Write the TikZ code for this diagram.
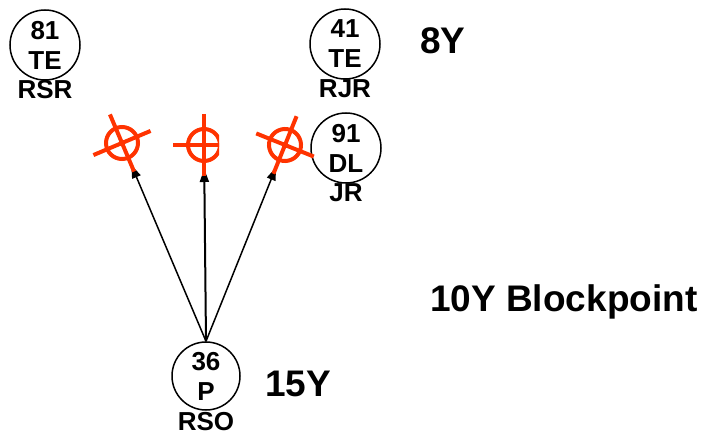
\documentclass[tikz,border=0pt]{standalone}
\usepackage{fontspec}
\setmainfont{Liberation Sans}
\usetikzlibrary{arrows.meta}
\definecolor{crossred}{RGB}{255,51,0}
\tikzset{
  circnode/.style={circle, draw=black, line width=1.5bp, minimum size=70bp, inner sep=0pt, align=center,
    font=\fontsize{26bp}{30bp}\selectfont\bfseries},
  sublabel/.style={inner sep=0pt, font=\fontsize{26bp}{30bp}\selectfont\bfseries},
  biglabel/.style={inner sep=0pt, anchor=base west, font=\fontsize{37bp}{40bp}\selectfont\bfseries},
  arr/.style={-{Triangle[length=13bp,width=9bp]}, line width=1.5bp, shorten >=24bp},
  crossline/.style={draw=crossred, line width=4bp},
  crosshair/.pic={
    \draw[crossline] (0,0) circle[radius=16];
    \draw[crossline] (-31,0) -- (31,0) (0,-31) -- (0,31);
  }
}
\begin{document}
\begin{tikzpicture}[x=1bp,y=-1bp]
\useasboundingbox (0,0) rectangle (709,440);
% circles
\node[circnode] (c81) at (45,45) {81\\TE};
\node[sublabel] (l81) at (45,90) {RSR};
\node[circnode] (c41) at (345,44) {41\\TE};
\node[sublabel] (l41) at (345,89) {RJR};
\node[circnode] (c91) at (346,148) {91\\DL};
\node[sublabel] (l91) at (346,193) {JR};
\node[circnode, minimum size=68bp] (c36) at (206,376) {36\\P};
\node[sublabel] (l36) at (206,422) {RSO};
% big labels
\node[biglabel] (t8) at (420,54) {8Y};
\node[biglabel] (t15) at (265,396) {15Y};
\node[biglabel] (t10) at (430,312) {10Y Blockpoint};
% crosshair centres
\coordinate (x1) at (122,143);
\coordinate (x2) at (204,145);
\coordinate (x3) at (285,145);
% arrows
\draw[arr] (c36.north) -- (x1);
\draw[arr, line width=2bp] (c36.north) -- (x2);
\draw[arr] (c36.north) -- (x3);
% crosshairs
\pic[rotate=22.9] at (x1) {crosshair};
\begin{scope}
  \clip (150,100) rectangle (219,200);
  \pic at (x2) {crosshair};
\end{scope}
\pic[rotate=-21.9] at (x3) {crosshair};
\end{tikzpicture}
\end{document}
